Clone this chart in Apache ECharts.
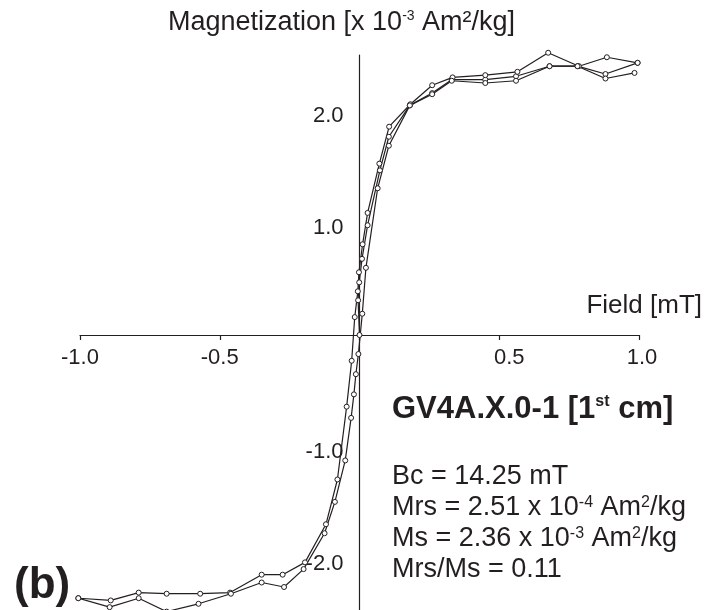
<!DOCTYPE html>
<html>
<head>
<meta charset="utf-8">
<script src="https://cdn.jsdelivr.net/npm/echarts@6/dist/echarts.min.js"></script>
<style>
  html, body { margin: 0; padding: 0; background: #fff; overflow: hidden; }
  #chart { width: 704px; height: 610px; }
</style>
</head>
<body>
<div id="chart"></div>
<script>
// field in T (axis says mT), moment in 1e-3 Am2/kg
const virginField = [0.000, -0.005, -0.001, 0.009, 0.029, 0.073, 0.105, 0.180, 0.260, 0.330, 0.450, 0.560, 0.680, 0.780, 0.880, 0.995]
const virginMoment = [0.00, 0.31, 0.47, 0.68, 0.98, 1.47, 1.77, 2.05, 2.16, 2.28, 2.28, 2.31, 2.40, 2.40, 2.33, 2.43]

const descField = [0.995, 0.885, 0.785, 0.675, 0.565, 0.450, 0.333, 0.260, 0.182, 0.106, 0.071, 0.029, 0.011, -0.002, -0.006, -0.017, -0.028, -0.046, -0.079, -0.120, -0.195, -0.275, -0.350, -0.463, -0.570, -0.690, -0.790, -0.890, -1.006]
const descMoment = [2.43, 2.48, 2.40, 2.52, 2.35, 2.32, 2.30, 2.23, 2.06, 1.86, 1.53, 1.09, 0.81, 0.56, 0.39, 0.16, -0.23, -0.64, -1.29, -1.69, -2.03, -2.14, -2.14, -2.30, -2.31, -2.31, -2.30, -2.37, -2.35]

const ascField = [-1.006, -0.894, -0.790, -0.690, -0.576, -0.460, -0.350, -0.270, -0.200, -0.125, -0.088, -0.051, -0.030, -0.020, -0.013, -0.004, 0.010, 0.023, 0.065, 0.105, 0.180, 0.260, 0.330, 0.450, 0.560, 0.680, 0.780, 0.880, 0.984]
const ascMoment = [-2.35, -2.43, -2.35, -2.47, -2.40, -2.31, -2.21, -2.25, -2.09, -1.77, -1.49, -1.12, -0.74, -0.53, -0.35, -0.17, 0.19, 0.60, 1.31, 1.69, 2.05, 2.15, 2.27, 2.25, 2.27, 2.40, 2.40, 2.29, 2.34]

const xTicks = [-1.0, -0.5, 0.5, 1.0]
const yTicks = [-2.0, -1.0, 1.0, 2.0]

const FONT = '"Liberation Sans", Arial, Helvetica, sans-serif'
const INK = '#231f20'

// grid box: the axes cross at the data origin, so shift them in from the edges
const GRID = { left: 80, width: 559, top: 55, height: 560 }
const xAxisShift = -GRID.height / 2
const yAxisShift = -GRID.width / 2

function pairs(xs, ys) {
  return xs.map((x, i) => [x, ys[i]])
}

function loopSeries(name, xs, ys) {
  return {
    name: name,
    type: 'line',
    data: pairs(xs, ys),
    symbol: 'circle',
    symbolSize: 5,
    showSymbol: true,
    clip: false,
    lineStyle: { color: INK, width: 1.2 },
    itemStyle: { color: '#fff', borderColor: INK, borderWidth: 1 },
    emphasis: { disabled: true }
  }
}

function label(x, y, text, rich, align) {
  return {
    type: 'text', x: x, y: y, silent: true,
    style: {
      text: text, rich: rich, fill: INK,
      align: align || 'left', verticalAlign: 'middle',
      textAlign: align || 'left', textVerticalAlign: 'middle'
    }
  }
}

const tickFont = { fontSize: 22, fontFamily: FONT, color: INK }
const norm = { fontSize: 27, fontFamily: FONT, fill: INK }
const sup = { fontSize: 16, fontFamily: FONT, fill: INK, verticalAlign: 'top' }
const bold = { fontSize: 31, fontFamily: FONT, fontWeight: 'bold', fill: INK }
const boldSup = { fontSize: 16, fontFamily: FONT, fontWeight: 'bold', fill: INK, verticalAlign: 'top' }
const txtRich = { n: norm, s: sup }
const axisRich = { n: { fontSize: 26, fontFamily: FONT, fill: INK }, s: { fontSize: 14, fontFamily: FONT, fill: INK, verticalAlign: 'top' } }
const titleRich = { n: { fontSize: 27, fontFamily: FONT, fill: INK }, s: { fontSize: 14, fontFamily: FONT, fill: INK, verticalAlign: 'top' } }

let chart = echarts.init(document.getElementById('chart'), null, { renderer: 'canvas' })

chart.setOption({
  animation: false,
  backgroundColor: '#fff',
  grid: Object.assign({ outerBoundsMode: 'none', containLabel: false }, GRID),
  xAxis: {
    type: 'value', min: -1, max: 1, interval: 0.5,
    position: 'bottom', offset: xAxisShift,
    axisLine: { onZero: false, lineStyle: { color: INK, width: 1.2 } },
    axisTick: { show: true, length: 5, lineStyle: { color: INK, width: 1.2 } },
    axisLabel: Object.assign({
      margin: 12,
      // the positive labels sit a little right of their ticks in the original
      formatter: v => {
        if (!xTicks.includes(v)) return ''
        if (v === 0.5) return '{a|0.5}'
        if (v === 1) return '{b|1.0}'
        return v.toFixed(1)
      },
      rich: {
        a: Object.assign({ padding: [0, 0, 0, 20] }, tickFont),
        b: Object.assign({ padding: [0, 0, 0, 6] }, tickFont)
      }
    }, tickFont),
    splitLine: { show: false }
  },
  yAxis: {
    type: 'value', min: -2.5, max: 2.5, interval: 0.5,
    position: 'left', offset: yAxisShift,
    axisLine: { show: true, onZero: false, lineStyle: { color: INK, width: 1.2 } },
    axisTick: { show: false },
    axisLabel: Object.assign({
      margin: 16,
      // labels hang slightly below their values in the original
      formatter: v => yTicks.includes(v) ? '{d|' + v.toFixed(1) + '}' : '',
      rich: { d: Object.assign({ padding: [10, 0, 0, 0] }, tickFont) }
    }, tickFont),
    splitLine: { show: false }
  },
  graphic: [
    label(168, 23, '{n|Magnetization [x 10}{s|-3}{n| Am²/kg]}', titleRich),
    label(702, 306, '{n|Field [mT]}', axisRich, 'right'),
    label(392, 409, '{b|GV4A.X.0-1 [1}{bs|st}{b| cm]}', { b: bold, bs: boldSup }),
    label(392, 477, '{n|Bc = 14.25 mT}', txtRich),
    label(392, 508, '{n|Mrs = 2.51 x 10}{s|-4}{n| Am}{s|2}{n|/kg}', txtRich),
    label(392, 539, '{n|Ms = 2.36 x 10}{s|-3}{n| Am}{s|2}{n|/kg}', txtRich),
    label(392, 570, '{n|Mrs/Ms = 0.11}', txtRich),
    label(14, 586, '{p|(b)}', { p: { fontSize: 44, fontWeight: 'bold', fontFamily: FONT, fill: INK } })
  ],
  series: [
    loopSeries('virgin', virginField, virginMoment),
    loopSeries('descending', descField, descMoment),
    loopSeries('ascending', ascField, ascMoment)
  ]
})

window.addEventListener('resize', function () {
  chart.resize()
})
</script>
</body>
</html>
